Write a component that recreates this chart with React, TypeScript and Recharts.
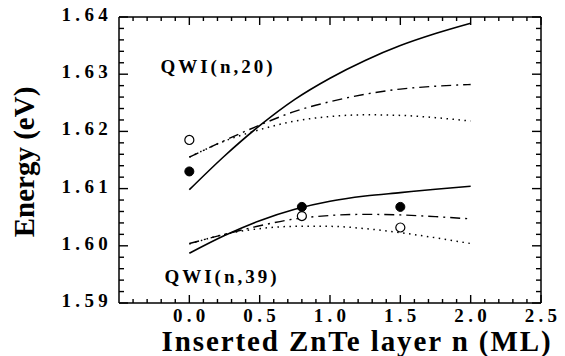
import React from "react";
import {
  ComposedChart,
  Line,
  Scatter,
  XAxis,
  YAxis,
} from "recharts";

// Inserted ZnTe layer n (ML)
const nValues = [0, 0.25, 0.5, 0.75, 1.0, 1.25, 1.5, 1.75, 2.0];

// QWI(n,20)
const solid20 = [1.6098, 1.6157, 1.621, 1.6256, 1.6293, 1.6324, 1.635, 1.6371, 1.6389];
const dashDot20 = [1.6155, 1.6184, 1.6211, 1.6235, 1.6252, 1.6265, 1.6274, 1.6279, 1.6282];
const dotted20 = [1.6155, 1.6183, 1.6203, 1.6218, 1.6226, 1.6229, 1.6228, 1.6224, 1.6218];

// QWI(n,39)
const solid39 = [1.5987, 1.6018, 1.6044, 1.6064, 1.6078, 1.6087, 1.6093, 1.6099, 1.6104];
const dashDot39 = [1.6004, 1.602, 1.6035, 1.6047, 1.6053, 1.6055, 1.6054, 1.6051, 1.6047];
const dotted39 = [1.6003, 1.602, 1.603, 1.6034, 1.6034, 1.603, 1.6023, 1.6014, 1.6004];

// experimental points
const filledX = [0, 0.8, 1.5];
const filledY = [1.613, 1.6068, 1.6068];
const openX = [0, 0.8, 1.5];
const openY = [1.6185, 1.6052, 1.6032];

// ticks
const xMajorTicks = [0, 0.5, 1.0, 1.5, 2.0, 2.5];
const xAllTicks = [
  -0.4, -0.3, -0.2, -0.1, 0, 0.1, 0.2, 0.3, 0.4, 0.5, 0.6, 0.7, 0.8, 0.9, 1.0,
  1.1, 1.2, 1.3, 1.4, 1.5, 1.6, 1.7, 1.8, 1.9, 2.0, 2.1, 2.2, 2.3, 2.4, 2.5,
];
const yMajorTicks = [1.59, 1.6, 1.61, 1.62, 1.63, 1.64];
const yAllTicks = [
  1.59, 1.592, 1.594, 1.596, 1.598, 1.6, 1.602, 1.604, 1.606, 1.608, 1.61,
  1.612, 1.614, 1.616, 1.618, 1.62, 1.622, 1.624, 1.626, 1.628, 1.63, 1.632,
  1.634, 1.636, 1.638, 1.64,
];

const xTitle = "Inserted ZnTe layer n (ML)";
const yTitle = "Energy (eV)";
const label20 = "QWI(n,20)";
const label39 = "QWI(n,39)";

const lineData = nValues.map((x, i) => ({
  x,
  s20: solid20[i],
  dd20: dashDot20[i],
  dt20: dotted20[i],
  s39: solid39[i],
  dd39: dashDot39[i],
  dt39: dotted39[i],
}));
const filledData = filledX.map((x, i) => ({ x, y: filledY[i] }));
const openData = openX.map((x, i) => ({ x, y: openY[i] }));

const FONT = "Liberation Serif";
const LABEL_STYLE: React.CSSProperties = {
  fontFamily: FONT,
  fontSize: 19,
  fontWeight: "bold",
  letterSpacing: "4.3px",
  fill: "#000",
};
const TICK_COLOR = "#000";
const TICK_W = 1.4;
const AX = { stroke: "#000", strokeWidth: 1.5 };

const isMajor = (list: number[], v: number) =>
  list.some((m) => Math.abs(m - v) < 1e-9);

function BottomTick(props: any) {
  const { x, y, payload } = props;
  const major = isMajor(xMajorTicks, payload.value);
  return (
    <g>
      <line x1={x} y1={y} x2={x} y2={y - (major ? 8 : 4)} stroke={TICK_COLOR} strokeWidth={TICK_W} />
      {major && (
        <text x={x + 2} y={y + 19} textAnchor="middle" style={LABEL_STYLE}>
          {Number(payload.value).toFixed(1)}
        </text>
      )}
    </g>
  );
}

function TopTick(props: any) {
  const { x, y, payload } = props;
  const major = isMajor(xMajorTicks, payload.value);
  return <line x1={x} y1={y} x2={x} y2={y + (major ? 8 : 4)} stroke={TICK_COLOR} strokeWidth={TICK_W} />;
}

function LeftTick(props: any) {
  const { x, y, payload } = props;
  const major = isMajor(yMajorTicks, payload.value);
  return (
    <g>
      <line x1={x} y1={y} x2={x + (major ? 9 : 5)} y2={y} stroke={TICK_COLOR} strokeWidth={TICK_W} />
      {major && (
        <text x={x - 7} y={y + 4} textAnchor="end" style={LABEL_STYLE}>
          {Number(payload.value).toFixed(2)}
        </text>
      )}
    </g>
  );
}

function RightTick(props: any) {
  const { x, y, payload } = props;
  const major = isMajor(yMajorTicks, payload.value);
  return <line x1={x} y1={y} x2={x - (major ? 9 : 5)} y2={y} stroke={TICK_COLOR} strokeWidth={TICK_W} />;
}

export default function App() {
  return (
    <div style={{ position: "absolute", left: 0, top: 0, background: "#fff" }}>
      <ComposedChart
        width={565}
        height={356}
        data={lineData}
        margin={{ top: 16, right: 23, bottom: 52, left: 118 }}
      >
        <XAxis xAxisId="b" type="number" dataKey="x" orientation="bottom" domain={[-0.5, 2.5]} allowDataOverflow ticks={xAllTicks} interval={0} height={1} tickSize={0} tickMargin={0} tick={<BottomTick />} tickLine={false} axisLine={AX} />
        <XAxis xAxisId="t" type="number" dataKey="x" orientation="top" domain={[-0.5, 2.5]} allowDataOverflow ticks={xAllTicks} interval={0} height={1} tickSize={0} tickMargin={0} tick={<TopTick />} tickLine={false} axisLine={AX} />
        <YAxis yAxisId="l" type="number" dataKey="y" orientation="left" domain={[1.59, 1.64]} allowDataOverflow ticks={yAllTicks} interval={0} width={1} tickSize={0} tickMargin={0} tick={<LeftTick />} tickLine={false} axisLine={AX} />
        <YAxis yAxisId="r" type="number" orientation="right" domain={[1.59, 1.64]} allowDataOverflow ticks={yAllTicks} interval={0} width={1} tickSize={0} tickMargin={0} tick={<RightTick />} tickLine={false} axisLine={AX} />

        <Line xAxisId="b" yAxisId="l" type="monotone" dataKey="s20" stroke="#000" strokeWidth={1.6} dot={false} activeDot={false} isAnimationActive={false} />
        <Line xAxisId="b" yAxisId="l" type="monotone" dataKey="dd20" stroke="#000" strokeWidth={1.4} strokeDasharray="10 5 2 5" dot={false} activeDot={false} isAnimationActive={false} />
        <Line xAxisId="b" yAxisId="l" type="monotone" dataKey="dt20" stroke="#000" strokeWidth={1.5} strokeDasharray="1.5 4.5" dot={false} activeDot={false} isAnimationActive={false} />
        <Line xAxisId="b" yAxisId="l" type="monotone" dataKey="s39" stroke="#000" strokeWidth={1.6} dot={false} activeDot={false} isAnimationActive={false} />
        <Line xAxisId="b" yAxisId="l" type="monotone" dataKey="dd39" stroke="#000" strokeWidth={1.4} strokeDasharray="10 5 2 5" dot={false} activeDot={false} isAnimationActive={false} />
        <Line xAxisId="b" yAxisId="l" type="monotone" dataKey="dt39" stroke="#000" strokeWidth={1.5} strokeDasharray="1.5 4.5" dot={false} activeDot={false} isAnimationActive={false} />

        <Scatter xAxisId="b" yAxisId="l" data={filledData} dataKey="y" fill="#000" stroke="#000" isAnimationActive={false} />
        <Scatter xAxisId="b" yAxisId="l" data={openData} dataKey="y" fill="#fff" stroke="#000" strokeWidth={1.2} isAnimationActive={false} />

        <text x={218} y={73} textAnchor="middle" style={{ fontFamily: FONT, fontSize: 19, fontWeight: "bold", letterSpacing: "3px" }}>{label20}</text>
        <text x={222} y={283} textAnchor="middle" style={{ fontFamily: FONT, fontSize: 19, fontWeight: "bold", letterSpacing: "3px" }}>{label39}</text>
        <text x={357} y={351} textAnchor="middle" style={{ fontFamily: FONT, fontSize: 29, fontWeight: "bold", letterSpacing: "1.9px" }}>{xTitle}</text>
        <text x={34} y={162} textAnchor="middle" transform="rotate(-90 34 162)" style={{ fontFamily: FONT, fontSize: 29, fontWeight: "bold" }}>{yTitle}</text>
      </ComposedChart>
    </div>
  );
}
